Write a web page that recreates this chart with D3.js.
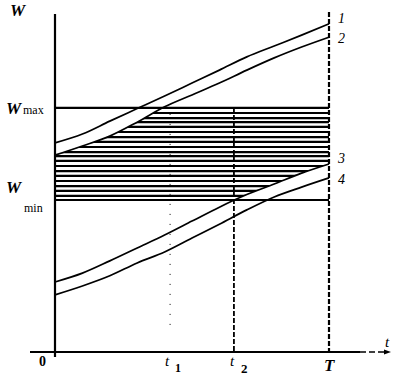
<!DOCTYPE html>
<html lang="en">
  <head>
    <meta charset="UTF-8" />
    <title>W(t)</title>
    <style>
      body {
        margin: 0;
        background: #fff;
      }
      svg text {
        font-family: "Liberation Serif", "DejaVu Serif", serif;
        fill: #000;
      }
      .it {
        font-style: italic;
      }
      .b {
        font-weight: bold;
      }
    </style>
  </head>
  <body>
    <div class="chart"></div>

    <script src="https://d3js.org/d3.v7.min.js"></script>

    <script>
      // time samples (T = 10)
      const tPoints = [0, 1, 2, 3, 4, 5, 6, 7, 8, 9, 10];
      // upper pair of curves
      const curve1 = [6.15, 6.41, 6.79, 7.16, 7.53, 7.91, 8.29, 8.68, 9.0, 9.32, 9.65];
      const curve2 = [5.79, 6.06, 6.35, 6.76, 7.21, 7.56, 7.91, 8.29, 8.65, 8.97, 9.26];
      // lower pair of curves
      const curve3 = [2.06, 2.32, 2.68, 3.06, 3.44, 3.85, 4.26, 4.63, 4.94, 5.26, 5.53];
      const curve4 = [1.68, 1.94, 2.24, 2.62, 2.94, 3.35, 3.76, 4.18, 4.56, 4.85, 5.12];

      const wMax = 7.18;
      const wMin = 4.47;
      // horizontal hatch levels between Wmin and Wmax
      const hatchLevels = [
        7.03, 6.88, 6.76, 6.62, 6.47, 6.32, 6.18, 6.03, 5.88, 5.76, 5.62,
        5.47, 5.32, 5.18, 5.03, 4.88, 4.74, 4.59,
      ];
      const t1 = 4.2;
      const t2 = 6.53;
      const tEnd = 10;
      const curveLabels = ["1", "2", "3", "4"];

      const w = 397;
      const h = 375;
      const svg = d3
        .select(".chart")
        .append("svg")
        .attr("width", w)
        .attr("height", h);

      const xScale = d3.scaleLinear().domain([0, 10]).range([55, 329]);
      const yScale = d3.scaleLinear().domain([0, 10]).range([352, 12]);

      const series = [curve1, curve2, curve3, curve4].map((vals) =>
        tPoints.map((t, i) => ({ t: t, w: vals[i] }))
      );

      const line = d3
        .line()
        .x((d) => xScale(d.t))
        .y((d) => yScale(d.w))
        .curve(d3.curveMonotoneX);

      // clip region: between curve 2 (top) and curve 3 (bottom)
      const band = tPoints.map((t, i) => ({ t: t, hi: curve2[i], lo: curve3[i] }));
      const area = d3
        .area()
        .x((d) => xScale(d.t))
        .y0((d) => yScale(d.lo))
        .y1((d) => yScale(d.hi))
        .curve(d3.curveMonotoneX);

      svg
        .append("clipPath")
        .attr("id", "band")
        .append("path")
        .attr("d", area(band));

      // hatching
      svg
        .append("g")
        .attr("clip-path", "url(#band)")
        .selectAll("line")
        .data(hatchLevels)
        .enter()
        .append("line")
        .attr("x1", xScale(0))
        .attr("x2", xScale(tEnd))
        .attr("y1", (d) => yScale(d))
        .attr("y2", (d) => yScale(d))
        .attr("stroke", "#000")
        .attr("stroke-width", 2.2);

      // Wmax / Wmin lines
      svg
        .append("g")
        .selectAll("line")
        .data([wMax, wMin])
        .enter()
        .append("line")
        .attr("x1", xScale(0))
        .attr("x2", xScale(tEnd))
        .attr("y1", (d) => yScale(d))
        .attr("y2", (d) => yScale(d))
        .attr("stroke", "#000")
        .attr("stroke-width", 2.2);

      // curves
      svg
        .append("g")
        .selectAll("path")
        .data(series)
        .enter()
        .append("path")
        .attr("d", line)
        .attr("fill", "none")
        .attr("stroke", "#000")
        .attr("stroke-width", 1.7);

      // vertical markers
      svg
        .append("line")
        .attr("x1", xScale(tEnd))
        .attr("x2", xScale(tEnd))
        .attr("y1", 12)
        .attr("y2", yScale(0))
        .attr("stroke", "#000")
        .attr("stroke-width", 2.2)
        .attr("stroke-dasharray", "5,2");

      svg
        .append("line")
        .attr("x1", xScale(t2))
        .attr("x2", xScale(t2))
        .attr("y1", yScale(wMax))
        .attr("y2", yScale(0))
        .attr("stroke", "#000")
        .attr("stroke-width", 1.8)
        .attr("stroke-dasharray", "5,2");

      svg
        .append("line")
        .attr("x1", xScale(t1))
        .attr("x2", xScale(t1))
        .attr("y1", yScale(wMax) + 6)
        .attr("y2", yScale(0) - 22)
        .attr("stroke", "#000")
        .attr("stroke-width", 1)
        .attr("stroke-dasharray", "1,9");

      // axes
      svg
        .append("line")
        .attr("x1", xScale(0))
        .attr("x2", xScale(0))
        .attr("y1", 14)
        .attr("y2", yScale(0) + 5)
        .attr("stroke", "#000")
        .attr("stroke-width", 2.2);

      svg
        .append("line")
        .attr("x1", 30)
        .attr("x2", 360)
        .attr("y1", yScale(0))
        .attr("y2", yScale(0))
        .attr("stroke", "#000")
        .attr("stroke-width", 2.2);

      svg
        .append("line")
        .attr("x1", 360)
        .attr("x2", 388)
        .attr("y1", yScale(0))
        .attr("y2", yScale(0))
        .attr("stroke", "#000")
        .attr("stroke-width", 1.5)
        .attr("stroke-dasharray", "6,3");

      svg
        .append("path")
        .attr("d", `M384,${yScale(0) - 2.5} L391,${yScale(0)} L384,${yScale(0) + 2.5}`)
        .attr("fill", "#000");

      // labels
      const txt = (x, y, s, size, cls) =>
        svg
          .append("text")
          .attr("x", x)
          .attr("y", y)
          .attr("class", cls || "")
          .style("font-size", size + "px")
          .text(s);

      txt(10, 16, "W", 17, "it b");
      txt(6, 114, "W", 17, "it b");
      txt(23, 114, "max", 12);
      txt(6, 193, "W", 17, "it b");
      txt(24, 212, "min", 12);
      txt(39, 366, "0", 14, "b");
      txt(165, 366, "t", 15, "it");
      txt(175, 372, "1", 12, "b");
      txt(230, 366, "t", 15, "it");
      txt(241, 373, "2", 13, "b");
      txt(324, 371, "T", 17, "it b");
      txt(385, 347, "t", 15, "it");

      // curve numbers at the right end
      const labelShift = [-1, 6, -1, 6];
      svg
        .append("g")
        .selectAll("text")
        .data(series)
        .enter()
        .append("text")
        .attr("class", "it")
        .attr("x", xScale(tEnd) + 9)
        .attr("y", (d, i) => yScale(d[d.length - 1].w) + labelShift[i])
        .style("font-size", "14px")
        .text((d, i) => curveLabels[i]);
    </script>
  </body>
</html>
